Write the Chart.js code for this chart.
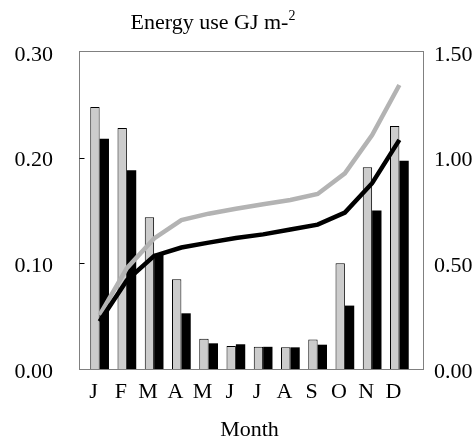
<!DOCTYPE html>
<html>
<head>
<meta charset="utf-8">
<script src="https://cdn.jsdelivr.net/npm/chart.js@4/dist/chart.umd.min.js"></script>
<style>
  html, body { margin: 0; padding: 0; background: #fff; }
  #wrap { width: 476px; height: 444px; }
</style>
</head>
<body>
<div id="wrap"><canvas id="myChart" width="476" height="444"></canvas></div>
<script>
// months on the x axis
const months = ['J', 'F', 'M', 'A', 'M', 'J', 'J', 'A', 'S', 'O', 'N', 'D'];

// monthly energy use (left axis), GJ m-2
const greyBars = [0.248, 0.228, 0.1435, 0.085, 0.0287, 0.0218, 0.021, 0.0205, 0.028, 0.100, 0.191, 0.230];
const blackBars = [0.218, 0.188, 0.109, 0.0527, 0.0243, 0.0234, 0.021, 0.0205, 0.023, 0.060, 0.150, 0.197];

// running totals (right axis)
const greyLine = [0.255, 0.477, 0.618, 0.705, 0.735, 0.758, 0.78, 0.80, 0.828, 0.926, 1.107, 1.344];
const blackLine = [0.225, 0.42, 0.535, 0.575, 0.598, 0.62, 0.637, 0.66, 0.683, 0.74, 0.879, 1.084];

// tick values
const leftTicks = [0, 0.1, 0.2, 0.3];
const rightTicks = [0, 0.5, 1.0, 1.5];

const serif = 'Liberation Serif';

// frame round the plot plus the small inner ticks on the left
const framePlugin = {
  id: 'frame',
  afterDraw(chart) {
    const { ctx, chartArea, scales } = chart;
    const l = Math.round(chartArea.left - 7) + 0.5;
    const r = Math.round(chartArea.right + 10) + 0.5;
    const t = Math.round(chartArea.top) - 0.5;
    const b = Math.round(chartArea.bottom) + 0.5;
    ctx.save();
    ctx.strokeStyle = '#808080';
    ctx.lineWidth = 1;
    ctx.strokeRect(l, t, r - l, b - t);
    ctx.strokeStyle = '#000';
    ctx.beginPath();
    leftTicks.slice(1, -1).forEach((v) => {
      const y = Math.round(scales.y.getPixelForValue(v)) + 0.5;
      ctx.moveTo(l, y);
      ctx.lineTo(l + 5, y);
    });
    ctx.stroke();
    ctx.restore();
  },
};

// title with the superscript
const titlePlugin = {
  id: 'topTitle',
  afterDraw(chart) {
    const { ctx } = chart;
    const main = 'Energy use GJ m-';
    const sup = '2';
    ctx.save();
    ctx.fillStyle = '#000';
    ctx.textBaseline = 'alphabetic';
    ctx.font = `22px "${serif}"`;
    const w1 = ctx.measureText(main).width;
    ctx.font = `14px "${serif}"`;
    const w2 = ctx.measureText(sup).width;
    const x0 = 213 - (w1 + w2) / 2;
    ctx.font = `22px "${serif}"`;
    ctx.fillText(main, x0, 28.5);
    ctx.font = `14px "${serif}"`;
    ctx.fillText(sup, x0 + w1, 20);
    ctx.restore();
  },
};

const ctx = document.getElementById('myChart').getContext('2d');
const myChart = new Chart(ctx, {
  data: {
    labels: months,
    datasets: [
      {
        type: 'line',
        data: greyLine,
        yAxisID: 'y1',
        borderColor: '#b3b3b3',
        borderWidth: 4.5,
        pointRadius: 0,
        tension: 0,
        order: 1,
      },
      {
        type: 'line',
        data: blackLine,
        yAxisID: 'y1',
        borderColor: '#000',
        borderWidth: 4.5,
        pointRadius: 0,
        tension: 0,
        order: 0,
      },
      {
        type: 'bar',
        data: greyBars,
        yAxisID: 'y',
        backgroundColor: '#cccccc',
        borderColor: '#000',
        borderWidth: 1,
        categoryPercentage: 0.687,
        barPercentage: 1,
        order: 2,
      },
      {
        type: 'bar',
        data: blackBars,
        yAxisID: 'y',
        backgroundColor: '#000',
        borderColor: '#000',
        borderWidth: 0,
        categoryPercentage: 0.687,
        barPercentage: 1,
        order: 3,
      },
    ],
  },
  options: {
    responsive: false,
    animation: false,
    layout: { padding: { top: 52, left: 0, right: 0, bottom: 0 } },
    plugins: {
      legend: { display: false },
      tooltip: { enabled: false },
    },
    scales: {
      x: {
        offset: true,
        grid: { display: false, drawTicks: false },
        border: { display: false },
        ticks: {
          color: '#000',
          font: { family: serif, size: 22 },
          padding: 10,
          labelOffset: -6,
          maxRotation: 0,
          autoSkip: false,
        },
        title: {
          display: true,
          text: 'Month',
          color: '#000',
          font: { family: serif, size: 22 },
          padding: { top: 0, bottom: 0.5 },
        },
        afterFit: (scale) => { scale.height = 75; },
      },
      y: {
        position: 'left',
        min: 0,
        max: 0.3,
        afterBuildTicks: (scale) => { scale.ticks = leftTicks.map((v) => ({ value: v })); },
        grid: { display: false, drawTicks: false },
        border: { display: false },
        ticks: {
          color: '#000',
          font: { family: serif, size: 22 },
          padding: 33,
          labelOffset: 3,
          callback: (v) => v.toFixed(2),
        },
        afterFit: (scale) => { scale.width = 86; },
      },
      y1: {
        position: 'right',
        min: 0,
        max: 1.5,
        afterBuildTicks: (scale) => { scale.ticks = rightTicks.map((v) => ({ value: v })); },
        grid: { display: false, drawTicks: false },
        border: { display: false },
        ticks: {
          color: '#000',
          font: { family: serif, size: 22 },
          padding: 21,
          labelOffset: 3,
          callback: (v) => v.toFixed(2),
        },
        afterFit: (scale) => { scale.width = 63; },
      },
    },
  },
  plugins: [framePlugin, titlePlugin],
});
</script>
</body>
</html>
